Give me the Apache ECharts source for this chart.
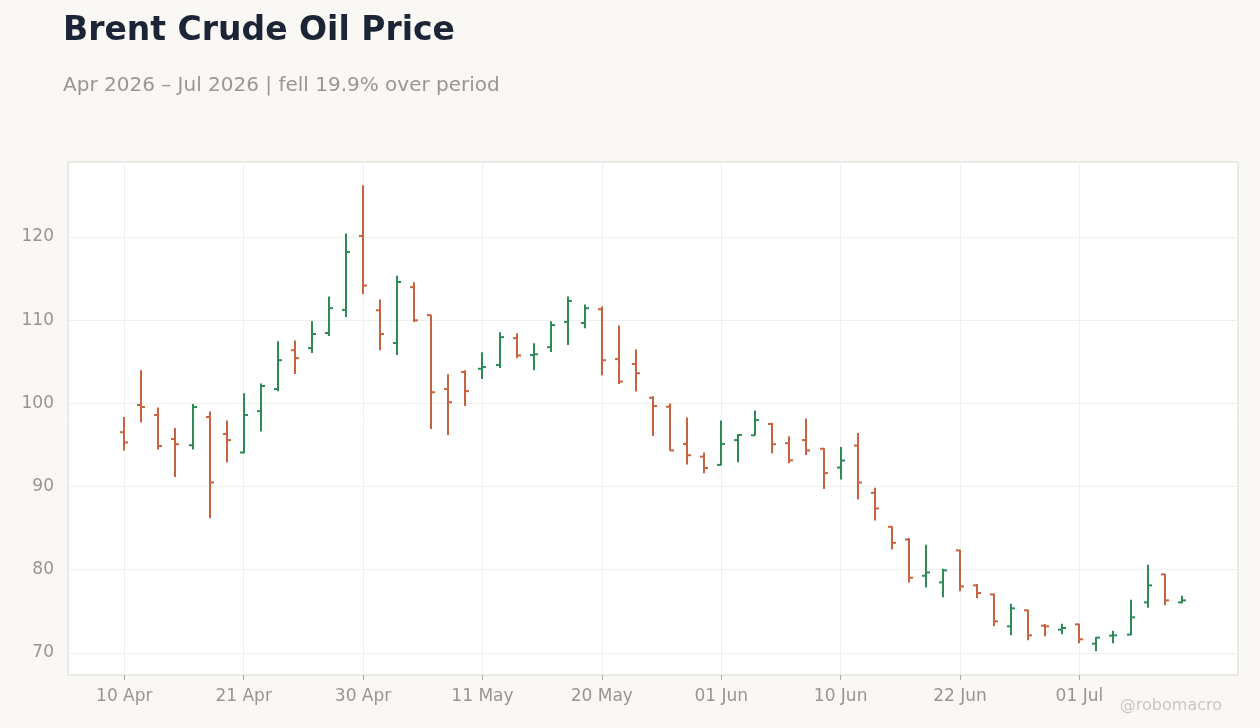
<!DOCTYPE html>
<html>
<head>
<meta charset="utf-8">
<title>Brent Crude Oil Price</title>
<script src="https://cdn.jsdelivr.net/npm/echarts@6/dist/echarts.min.js"></script>
<style>
  html, body { margin: 0; padding: 0; background: #f9f8f5; }
  #chart { width: 1260px; height: 728px; }
</style>
</head>
<body>
<div id="chart"></div>
<script>
// trading days (business days, US holidays skipped)
const dates = [
  '10 Apr', '13 Apr', '14 Apr', '15 Apr', '16 Apr', '17 Apr', '20 Apr',
  '21 Apr', '22 Apr', '23 Apr', '24 Apr', '27 Apr', '28 Apr', '29 Apr',
  '30 Apr', '01 May', '04 May', '05 May', '06 May', '07 May', '08 May',
  '11 May', '12 May', '13 May', '14 May', '15 May', '18 May', '19 May',
  '20 May', '21 May', '22 May', '26 May', '27 May', '28 May', '29 May',
  '01 Jun', '02 Jun', '03 Jun', '04 Jun', '05 Jun', '08 Jun', '09 Jun',
  '10 Jun', '11 Jun', '12 Jun', '15 Jun', '16 Jun', '17 Jun', '18 Jun',
  '22 Jun', '23 Jun', '24 Jun', '25 Jun', '26 Jun', '29 Jun', '30 Jun',
  '01 Jul', '02 Jul', '06 Jul', '07 Jul', '08 Jul', '09 Jul', '10 Jul'
];

const opens = [
  96.53, 99.80, 98.60, 95.70, 94.96, 98.35, 96.32, 94.09, 99.06, 101.71,
  106.38, 106.63, 108.45, 111.23, 120.12, 111.18, 107.25, 113.96, 110.60, 101.71,
  103.77, 104.15, 104.60, 107.83, 105.80, 106.75, 109.78, 109.65, 111.31, 105.31,
  104.73, 100.67, 99.59, 95.12, 93.59, 92.60, 95.58, 96.16, 97.52, 95.21,
  95.58, 94.54, 92.28, 94.92, 89.24, 85.16, 83.64, 79.28, 78.48, 82.32,
  78.12, 77.04, 73.20, 75.12, 73.28, 72.80, 73.44, 71.12, 72.08, 72.20,
  76.08, 79.44, 76.08
];
const highs = [
  98.35, 103.98, 99.51, 97.03, 99.93, 99.01, 97.94, 101.21, 102.37, 107.46,
  107.54, 109.86, 112.84, 120.41, 126.21, 112.47, 115.32, 114.54, 110.60, 103.49,
  103.98, 106.13, 108.53, 108.41, 107.21, 109.86, 112.84, 111.89, 111.64, 109.36,
  106.47, 100.84, 99.97, 98.31, 94.09, 97.94, 96.32, 99.14, 97.65, 96.03,
  98.19, 94.59, 94.76, 96.44, 89.84, 85.24, 83.80, 83.00, 80.12, 82.40,
  78.28, 77.12, 75.92, 75.20, 73.48, 73.52, 73.52, 71.92, 72.68, 76.40,
  80.60, 79.52, 76.88
];
const lows = [
  94.34, 97.69, 94.46, 91.15, 94.46, 86.18, 92.89, 94.00, 96.61, 101.46,
  103.53, 106.05, 108.08, 110.36, 113.13, 106.38, 105.80, 109.78, 96.90, 96.20,
  99.68, 102.91, 104.23, 105.43, 103.98, 106.18, 107.00, 109.03, 103.36, 102.33,
  101.42, 96.08, 94.30, 92.64, 91.61, 92.52, 92.93, 96.12, 94.00, 92.81,
  93.80, 89.70, 90.84, 88.44, 85.92, 82.44, 78.48, 77.88, 76.68, 77.40,
  76.56, 73.20, 72.12, 71.52, 72.00, 72.24, 71.16, 70.20, 71.16, 72.12,
  75.44, 75.72, 75.96
];
const closes = [
  95.29, 99.55, 94.88, 95.08, 99.55, 90.49, 95.58, 98.60, 102.08, 105.18,
  105.43, 108.33, 111.43, 118.18, 114.16, 108.33, 114.58, 109.98, 101.33, 100.13,
  101.46, 104.35, 107.95, 105.76, 105.89, 109.40, 112.30, 111.43, 105.18, 102.62,
  103.61, 99.68, 94.34, 93.76, 92.23, 95.12, 96.20, 97.98, 95.08, 93.14,
  94.34, 91.61, 93.12, 90.48, 87.36, 83.24, 79.04, 79.68, 79.92, 78.00,
  77.20, 73.80, 75.36, 72.12, 73.20, 73.00, 71.64, 71.84, 72.12, 74.28,
  78.12, 76.32, 76.32
];

const xTicks = [0, 7, 14, 21, 28, 35, 42, 49, 56];
const yTicks = [70, 80, 90, 100, 110, 120];

const UP = '#2e8b57';
const DOWN = '#c9623f';

const ohlc = dates.map((d, i) => [i, opens[i], highs[i], lows[i], closes[i]]);

const chart = echarts.init(document.getElementById('chart'));

function renderBar(params, api) {
  const i = api.value(0);
  const pO = api.coord([i, api.value(1)]);
  const pH = api.coord([i, api.value(2)]);
  const pL = api.coord([i, api.value(3)]);
  const pC = api.coord([i, api.value(4)]);
  const color = api.value(4) >= api.value(1) ? UP : DOWN;
  const style = { stroke: color, lineWidth: 2 };
  const x = Math.round(pH[0]);
  return {
    type: 'group',
    children: [
      { type: 'line', shape: { x1: x, y1: pH[1], x2: x, y2: pL[1] }, style: style },
      { type: 'line', shape: { x1: x - 4, y1: pO[1], x2: x, y2: pO[1] }, style: style },
      { type: 'line', shape: { x1: x, y1: pC[1], x2: x + 4, y2: pC[1] }, style: style }
    ]
  };
}

chart.setOption({
  backgroundColor: '#f9f8f5',
  textStyle: { fontFamily: 'DejaVu Sans' },
  animation: false,
  title: [
    {
      text: 'Brent Crude Oil Price',
      left: 58, top: 10,
      textStyle: { fontSize: 33, fontWeight: 'bold', color: '#1b2535', fontFamily: 'DejaVu Sans' }
    },
    {
      text: 'Apr 2026 \u2013 Jul 2026 | fell 19.9% over period',
      left: 58, top: 71,
      textStyle: { fontSize: 20, fontWeight: 'normal', color: '#9a9591', fontFamily: 'DejaVu Sans' }
    },
    {
      text: '@robomacro',
      right: 33, bottom: 9,
      textStyle: { fontSize: 16, fontWeight: 'normal', color: '#cbc7c2', fontFamily: 'DejaVu Sans' }
    }
  ],
  grid: {
    left: 68, right: 22, top: 162, bottom: 53,
    show: true, backgroundColor: '#ffffff', borderColor: '#ddd8d0', borderWidth: 1
  },
  xAxis: {
    type: 'value',
    min: -3.3,
    max: dates.length - 1 + 3.3,
    axisLine: { show: false },
    axisTick: { show: true, customValues: xTicks, length: 5, lineStyle: { color: '#aaa6a1' } },
    axisLabel: {
      customValues: xTicks,
      formatter: (v) => dates[v] || '',
      color: '#99948f', fontSize: 17, margin: 13
    },
    splitLine: { show: true, lineStyle: { color: '#efefef', width: 1 } }
  },
  yAxis: {
    type: 'value',
    min: 67.35,
    max: 129.0,
    axisLine: { show: false },
    axisTick: { show: false, customValues: yTicks },
    axisLabel: { customValues: yTicks, color: '#99948f', fontSize: 17, margin: 14 },
    splitLine: { show: true, lineStyle: { color: '#efefef', width: 1 } }
  },
  series: [{
    type: 'custom',
    renderItem: renderBar,
    encode: { x: 0, y: [1, 2, 3, 4] },
    data: ohlc,
    clip: true
  }]
});
</script>
</body>
</html>
